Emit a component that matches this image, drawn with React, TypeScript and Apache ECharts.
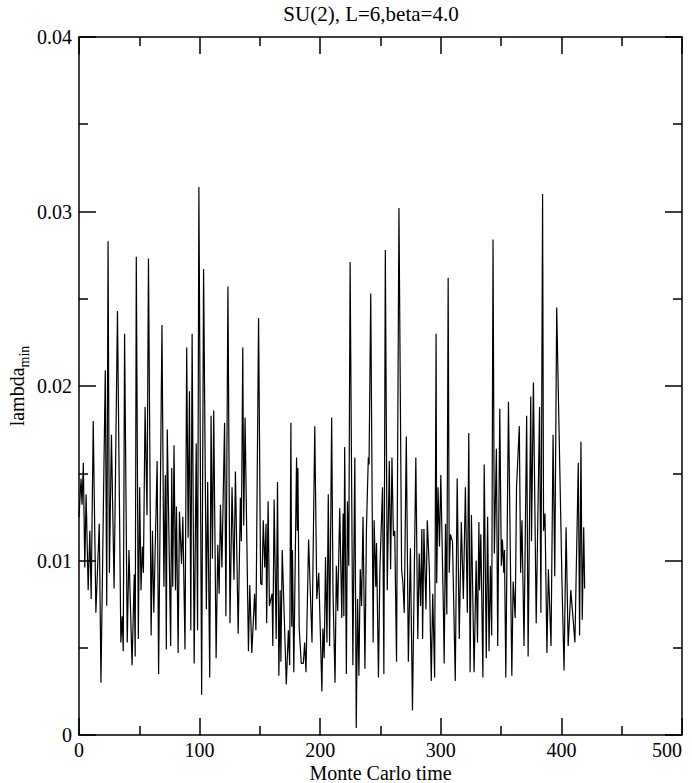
import React, { useEffect, useRef } from "react";
import * as echarts from "echarts";

const chartTitle = "SU(2), L=6,beta=4.0";
const xName = "Monte Carlo time";
const xMin = 0;
const xMax = 500;
const xStep = 100;
const yMin = 0;
const yMax = 0.04;
const yStep = 0.01;

const mcTime = [
  0, 1.7, 2.5, 3.6, 4.8, 5.9, 7.6, 9, 10.1, 11.8, 14, 16.8, 18.2, 21.8, 23, 24.1, 25.2, 26.9, 29.1, 31.9,
  34.7, 35.8, 36.7, 37.8, 40, 41.4, 44, 45.8, 46.6, 47.5, 49.2, 50.3, 51.4, 52.5, 53.4, 54.8, 56.4, 57.6, 59.8, 60.9,
  62, 64.8, 66, 68.8, 70.4, 71.6, 72.4, 73.2, 76, 76.9, 77.7, 78.8, 80, 80.8, 82.2, 83.3, 85, 86.1, 87.9, 89.3,
  90.5, 91.6, 92.7, 93.8, 95.5, 97.2, 98.3, 99.4, 101.7, 103.3, 105.6, 106.7, 108.4, 109.5, 110.6, 111.7, 113.7, 115.1, 116.2, 117.3,
  118.5, 120.7, 121.8, 123.5, 125.2, 126.9, 128.5, 129.7, 132, 133.8, 134.6, 135.8, 136.6, 137.7, 140.5, 141.6, 143.3, 145.6, 146.7, 148.9,
  150.6, 151.7, 152.8, 154, 155.1, 155.6, 156.8, 157.9, 160.1, 160.7, 161.8, 163.5, 164.6, 165.7, 166.8, 167.4, 168.5, 171.9, 173.6, 174.7,
  175.7, 176.4, 177, 178.1, 180.4, 181, 181.5, 182.6, 184.3, 186, 187.1, 188.2, 190.4, 193.2, 195.5, 197.2, 198.8, 201.4, 202.2, 203.3,
  204.4, 205.6, 206.7, 207.8, 209.5, 210.6, 212.3, 213.4, 214.5, 216.2, 217.9, 219, 219.6, 220.3, 221.7, 222.6, 223.7, 224.8, 227.1, 228.7,
  229.9, 231, 232.1, 233.2, 234.3, 235.5, 237.1, 238.3, 239.9, 240.5, 241.9, 243.9, 244.7, 246.1, 246.7, 248.3, 249.5, 251.7, 252.8, 254,
  255.6, 257.3, 258.4, 259.5, 260.7, 261.8, 263.3, 265.3, 267.5, 268.6, 269.7, 271.4, 273.1, 274.8, 276.5, 279.3, 280.9, 282.1, 283.2, 284.3,
  284.9, 286, 287.7, 288.8, 290.5, 292.1, 293.3, 294.9, 296.1, 296.6, 297.7, 298.9, 300, 302.2, 302.8, 303.9, 305, 306.1, 307, 308,
  309.7, 312, 313.6, 315.3, 317, 318.7, 320.4, 322, 323.2, 324.3, 325.4, 327.6, 329.3, 330.4, 331.6, 332.1, 333.2, 334.9, 336, 337.7,
  338.8, 340, 341.1, 342.2, 343.3, 344.4, 346.1, 347.2, 348.9, 350.2, 351.1, 352.2, 352.8, 353.9, 356.1, 358.9, 360, 361.7, 362.8, 365.1,
  366.2, 367.3, 369, 371.2, 372.4, 374.6, 375.2, 376.8, 379.1, 381.9, 383, 384.4, 385.2, 386.4, 388, 389.2, 391.4, 393.1, 394.5, 396.1,
  400.5, 402.2, 403.9, 405.6, 407.8, 411.2, 414, 415.1, 416.2, 417.3, 418.5, 419.3,
];

const lambdaMin = [
  0.0125, 0.0147, 0.0132, 0.0156, 0.0096, 0.0138, 0.0083, 0.0117, 0.0078, 0.018, 0.007, 0.0121, 0.003, 0.0209, 0.0074, 0.0283, 0.0093, 0.0172, 0.0084, 0.0243,
  0.0053, 0.0068, 0.0048, 0.023, 0.0053, 0.0106, 0.004, 0.0092, 0.0045, 0.0274, 0.0055, 0.0142, 0.0083, 0.0108, 0.0093, 0.0188, 0.0126, 0.0273, 0.0057, 0.0117,
  0.007, 0.0157, 0.0035, 0.0235, 0.0085, 0.0149, 0.0049, 0.0175, 0.0051, 0.0153, 0.0085, 0.0166, 0.0083, 0.0131, 0.0047, 0.0128, 0.0098, 0.0125, 0.0049, 0.0222,
  0.0113, 0.0197, 0.006, 0.023, 0.0041, 0.0167, 0.006, 0.0314, 0.0023, 0.0267, 0.0072, 0.0145, 0.0033, 0.0183, 0.0101, 0.0186, 0.0044, 0.0109, 0.0081, 0.0132,
  0.0096, 0.0179, 0.0068, 0.0257, 0.0064, 0.0142, 0.0089, 0.0151, 0.0058, 0.0136, 0.0111, 0.0222, 0.012, 0.0182, 0.0048, 0.0086, 0.0047, 0.0081, 0.006, 0.0239,
  0.0087, 0.0086, 0.0123, 0.0096, 0.0121, 0.0064, 0.0134, 0.0074, 0.0081, 0.0051, 0.0135, 0.0055, 0.0145, 0.0034, 0.0083, 0.0042, 0.0106, 0.0029, 0.006, 0.004,
  0.0179, 0.0062, 0.0106, 0.0036, 0.0159, 0.0117, 0.0153, 0.0061, 0.0041, 0.0041, 0.0053, 0.0036, 0.0112, 0.0053, 0.0177, 0.0078, 0.0093, 0.0025, 0.0061, 0.0044,
  0.0102, 0.0053, 0.0138, 0.0051, 0.0182, 0.0083, 0.003, 0.0097, 0.0071, 0.013, 0.0067, 0.0127, 0.0068, 0.0165, 0.0035, 0.0134, 0.0097, 0.0271, 0.004, 0.0159,
  0.0004, 0.0078, 0.0034, 0.0095, 0.0074, 0.0125, 0.0038, 0.0117, 0.0159, 0.0155, 0.0253, 0.0053, 0.0123, 0.0085, 0.011, 0.0033, 0.0095, 0.0142, 0.0035, 0.0278,
  0.0083, 0.0157, 0.0095, 0.0159, 0.0114, 0.0117, 0.0042, 0.0302, 0.0095, 0.0087, 0.007, 0.0171, 0.0042, 0.0107, 0.0014, 0.0159, 0.0055, 0.0104, 0.0074, 0.0118,
  0.0055, 0.0118, 0.0072, 0.0123, 0.0095, 0.0031, 0.0081, 0.0033, 0.023, 0.0087, 0.0142, 0.0108, 0.0149, 0.007, 0.0041, 0.0121, 0.0069, 0.0262, 0.0093, 0.0115,
  0.0111, 0.0031, 0.0147, 0.0055, 0.0122, 0.0078, 0.0142, 0.007, 0.0173, 0.0036, 0.0126, 0.0036, 0.01, 0.0053, 0.0122, 0.0083, 0.0115, 0.0033, 0.0155, 0.0044,
  0.0125, 0.0048, 0.0097, 0.0057, 0.0284, 0.0104, 0.0164, 0.0051, 0.0187, 0.0097, 0.0112, 0.0093, 0.0106, 0.0033, 0.0191, 0.0034, 0.0088, 0.0067, 0.0142, 0.0177,
  0.0093, 0.0123, 0.0051, 0.0183, 0.0045, 0.0194, 0.0111, 0.0202, 0.0064, 0.0188, 0.007, 0.031, 0.0117, 0.0127, 0.0047, 0.0095, 0.0051, 0.0172, 0.0091, 0.0245,
  0.0087, 0.0037, 0.0119, 0.0051, 0.0083, 0.0053, 0.0156, 0.0057, 0.0168, 0.0066, 0.0119, 0.0084,
];

const serif = "'Liberation Serif', 'Times New Roman', serif";

export default function App() {
  const ref = useRef<HTMLDivElement>(null);

  useEffect(() => {
    if (!ref.current) return;
    const chart = echarts.init(ref.current, undefined, { renderer: "svg" });
    const black = "#000";
    const common = {
      type: "value" as const,
      axisLine: { show: true, onZero: false, lineStyle: { color: black, width: 1.5 } },
      axisTick: { show: true, inside: true, length: 17, lineStyle: { color: black, width: 1.5 } },
      minorTick: { show: true, splitNumber: 2, length: 9, lineStyle: { color: black, width: 1.5 } },
      splitLine: { show: false },
      minorSplitLine: { show: false },
    };
    const labelStyle = { color: black, fontFamily: serif, fontSize: 20 };
    chart.setOption({
      animation: false,
      backgroundColor: "#fff",
      grid: { left: 79, right: 10, top: 37, bottom: 48, containLabel: false, outerBoundsMode: "none" },
      graphic: [
        {
          type: "text",
          x: 371,
          y: 14,
          style: {
            text: chartTitle,
            font: `21px ${serif}`,
            fill: black,
            align: "center",
            verticalAlign: "middle",
            textAlign: "center",
            textVerticalAlign: "middle",
          },
        },
      ],
      xAxis: [
        {
          ...common,
          position: "bottom",
          min: xMin,
          max: xMax,
          interval: xStep,
          axisLabel: { ...labelStyle, margin: 5, alignMaxLabel: "right" },
          name: xName,
          nameLocation: "middle",
          nameGap: 28,
          nameMoveOverlap: false,
          nameTextStyle: { color: black, fontFamily: serif, fontSize: 20 },
        },
        {
          ...common,
          position: "top",
          min: xMin,
          max: xMax,
          interval: xStep,
          axisLabel: { show: false },
        },
      ],
      yAxis: [
        {
          ...common,
          position: "left",
          min: yMin,
          max: yMax,
          interval: yStep,
          axisLabel: { ...labelStyle, margin: 7 },
          name: "{a|lambda}{b|min}",
          nameLocation: "middle",
          nameRotate: 90,
          nameGap: 48,
          nameMoveOverlap: false,
          nameTextStyle: {
            rich: {
              a: { fontFamily: serif, fontSize: 20, color: black, lineHeight: 24, verticalAlign: "top" },
              b: { fontFamily: serif, fontSize: 14, color: black, lineHeight: 14, verticalAlign: "bottom" },
            },
          },
        },
        {
          ...common,
          position: "right",
          min: yMin,
          max: yMax,
          interval: yStep,
          axisLabel: { show: false },
        },
      ],
      series: [
        {
          type: "line",
          xAxisIndex: 0,
          yAxisIndex: 0,
          data: mcTime.map((t, i) => [t, lambdaMin[i]]),
          showSymbol: false,
          symbol: "none",
          lineStyle: { color: black, width: 1.2 },
          silent: true,
        },
      ],
    });
    return () => chart.dispose();
  }, []);

  return (
    <div
      ref={ref}
      style={{ position: "absolute", left: 0, top: 0, width: 692, height: 783, background: "#fff" }}
    />
  );
}
